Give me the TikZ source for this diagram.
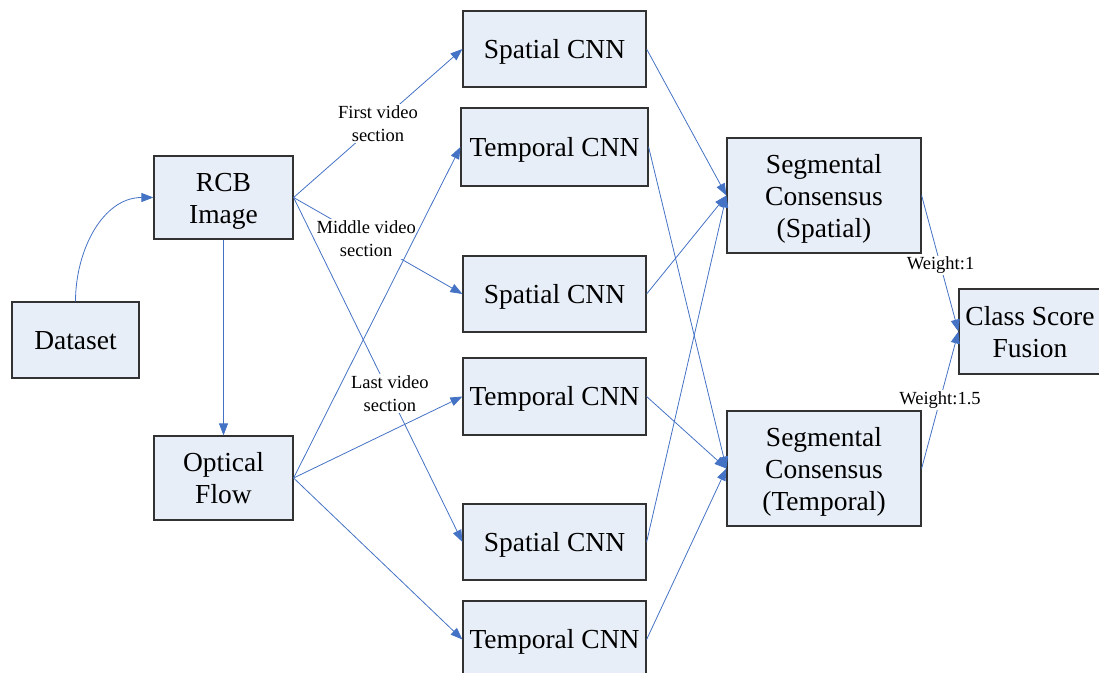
\documentclass[tikz,border=0pt]{standalone}
\usepackage{fontspec}
\setmainfont{Liberation Serif}
\usetikzlibrary{arrows.meta}
\definecolor{boxfill}{RGB}{232,238,247}
\definecolor{linkblue}{RGB}{68,114,196}
\definecolor{boxline}{RGB}{50,50,50}
\newcommand{\boxstrut}{\rule[-0.216em]{0pt}{1.107em}}
\newcommand{\topstrut}{\rule{0pt}{0.93em}}
\begin{document}
\begin{tikzpicture}[x=1pt,y=-1pt,
  box/.style={draw=boxline, line width=1.2pt, fill=boxfill, inner sep=0pt, align=center,
    font=\fontsize{27.5}{32}\selectfont, execute at begin node=\boxstrut},
  link/.style={draw=linkblue, line width=0.8pt, -{Triangle[length=12pt,width=9pt]}},
  lbl/.style={fill=white, inner sep=1.5pt, align=center, font=\fontsize{18.5}{23}\selectfont}]
\useasboundingbox (0,0) rectangle (1099,672);
% boxes
\node[box, minimum width=127pt, minimum height=76pt] (ds) at (75.5,340) {Dataset};
\node[box, minimum width=139pt, minimum height=83pt] (rcb) at (223.5,197.5) {\topstrut RCB\\Image};
\node[box, minimum width=139pt, minimum height=84pt] (of) at (223.5,478) {\topstrut Optical\\Flow};
\node[box, minimum width=183pt, minimum height=76pt] (sp1) at (554.5,49) {Spatial CNN};
\node[box, minimum width=187pt, minimum height=78pt] (tp1) at (554.5,147) {Temporal CNN};
\node[box, minimum width=183pt, minimum height=76pt] (sp2) at (554.5,294) {Spatial CNN};
\node[box, minimum width=183pt, minimum height=77pt] (tp2) at (554.5,396.5) {Temporal CNN};
\node[box, minimum width=183pt, minimum height=76pt] (sp3) at (554.5,542) {Spatial CNN};
\node[box, minimum width=183pt, minimum height=77pt] (tp3) at (554.5,639.5) {Temporal CNN};
\node[box, minimum width=194pt, minimum height=115pt] (segS) at (824,195.5) {\topstrut Segmental\\Consensus\\(Spatial)};
\node[box, minimum width=194pt, minimum height=115pt] (segT) at (824,468.5) {\topstrut Segmental\\Consensus\\(Temporal)};
\node[box, minimum width=142pt, minimum height=85pt] (csf) at (1030,331.5) {\topstrut Class Score\\Fusion};
% connectors
\draw[link] (ds.north) to[out=90,in=180] (rcb.west);
\draw[link] (rcb.south) -- (of.north);
\draw[link] (rcb.east) -- node[lbl,pos=0.5]{First video\\section} (sp1.west);
\draw[link] (rcb.east) -- node[lbl,pos=0.43]{Middle video\\section} (sp2.west);
\draw[link] (rcb.east) -- node[lbl,pos=0.57]{Last video\\section} (sp3.west);
\draw[link] (of.east) -- (tp1.west);
\draw[link] (of.east) -- (tp2.west);
\draw[link] (of.east) -- (tp3.west);
\draw[link] (sp1.east) -- (segS.west);
\draw[link] (sp2.east) -- (segS.west);
\draw[link] (sp3.east) -- (segS.west);
\draw[link] (tp1.east) -- (segT.west);
\draw[link] (tp2.east) -- (segT.west);
\draw[link] (tp3.east) -- (segT.west);
\draw[link] (segS.east) -- node[lbl,pos=0.515]{Weight:1} (csf.west);
\draw[link] (segT.east) -- node[lbl,pos=0.5]{Weight:1.5} (csf.west);
\end{tikzpicture}
\end{document}
